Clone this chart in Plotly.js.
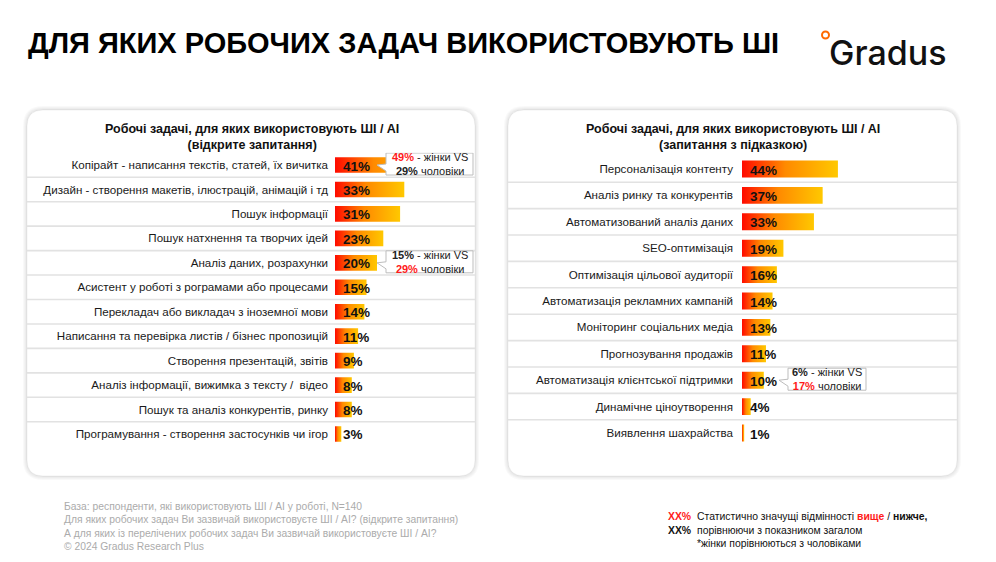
<!DOCTYPE html>
<html>
<head>
<meta charset="utf-8">
<script src="https://cdn.plot.ly/plotly-3.0.1.min.js"></script>
<style>html,body{margin:0;padding:0;background:#fff;}#chart{width:996px;height:562px;}</style>
</head>
<body>
<div id="chart"></div>
<script>
// ---------- DATA ----------
const leftCategories = [
  'Копірайт - написання текстів, статей, їх вичитка',
  'Дизайн - створення макетів, ілюстрацій, анімацій і тд',
  'Пошук інформації',
  'Пошук натхнення та творчих ідей',
  'Аналіз даних, розрахунки',
  'Асистент у роботі з рограмами або процесами',
  'Перекладач або викладач з іноземної мови',
  'Написання та перевірка листів / бізнес пропозицій',
  'Створення презентацій, звітів',
  'Аналіз інформації, вижимка з тексту /  відео',
  'Пошук та аналіз конкурентів, ринку',
  'Програмування - створення застосунків чи ігор'
];
const leftValues = [41, 33, 31, 23, 20, 15, 14, 11, 9, 8, 8, 3];

const rightCategories = [
  'Персоналізація контенту',
  'Аналіз ринку та конкурентів',
  'Автоматизований аналіз даних',
  'SEO-оптимізація',
  'Оптимізація цільової аудиторії',
  'Автоматизація рекламних кампаній',
  'Моніторинг соціальних медіа',
  'Прогнозування продажів',
  'Автоматизація клієнтської підтримки',
  'Динамічне ціноутворення',
  'Виявлення шахрайства'
];
const rightValues = [44, 37, 33, 19, 16, 14, 13, 11, 10, 4, 1];

// gender callouts
const leftCalloutRows = [0, 4];
const leftCalloutWomen = [49, 15];
const leftCalloutMen = [29, 29];
const leftCalloutHigher = ['women', 'men'];
const rightCalloutRows = [8];
const rightCalloutWomen = [6];
const rightCalloutMen = [17];
const rightCalloutHigher = ['men'];

const mainTitle = 'ДЛЯ ЯКИХ РОБОЧИХ ЗАДАЧ ВИКОРИСТОВУЮТЬ ШІ';
const leftPanelTitle = 'Робочі задачі, для яких використовують ШІ / AI<br>(відкрите запитання)';
const rightPanelTitle = 'Робочі задачі, для яких використовують ШІ / AI<br>(запитання з підказкою)';
const footnotes = [
  'База: респонденти, які використовують ШІ / AI у роботі, N=140',
  'Для яких робочих задач Ви зазвичай використовуєте ШІ / AI? (відкрите запитання)',
  'А для яких із перелічених робочих задач Ви зазвичай використовуєте ШІ / AI?',
  '© 2024 Gradus Research Plus'
];

// ---------- LAYOUT HELPERS ----------
const W = 996, H = 562;
const FONT = 'Liberation Sans, Arial, sans-serif';
const px = x => x / W;
const py = y => 1 - y / H;
const RED = '#ff1a1a';

// panel geometry (pixels)
const L = {barStart: 335, pxPer: 2.1, top: 152.8, bottom: 446.2, cardX0: 27, cardX1: 475, boxX0: 386, boxX1: 473, standoff: 6};
const R = {barStart: 742, pxPer: 2.18, top: 155.8, bottom: 446.2, cardX0: 508, cardX1: 957, boxX0: 788, boxX1: 866, standoff: 8};
const XMAX = 60;

function rr(x0, y0, x1, y1, r) {
  return `M${px(x0 + r)},${py(y0)} L${px(x1 - r)},${py(y0)} Q${px(x1)},${py(y0)} ${px(x1)},${py(y0 + r)} ` +
    `L${px(x1)},${py(y1 - r)} Q${px(x1)},${py(y1)} ${px(x1 - r)},${py(y1)} L${px(x0 + r)},${py(y1)} ` +
    `Q${px(x0)},${py(y1)} ${px(x0)},${py(y1 - r)} L${px(x0)},${py(y0 + r)} Q${px(x0)},${py(y0)} ${px(x0 + r)},${py(y0)} Z`;
}

const traces = [];
const shapes = [];
const annotations = [];
const HALF = 0.32;
const gradient = {type: 'horizontal', colorscale: [[0, '#ff0a00'], [0.45, '#ff8a00'], [1, '#ffc800']]};

function addPanel(cats, vals, G, xa, ya) {
  vals.forEach((v, i) => {
    traces.push({
      type: 'scatter', mode: 'lines', xaxis: xa, yaxis: ya,
      x: [0, v, v, 0, 0], y: [i - HALF, i - HALF, i + HALF, i + HALF, i - HALF],
      fill: 'toself', fillgradient: gradient, line: {width: 0}, hoverinfo: 'skip', showlegend: false
    });
    annotations.push({
      xref: xa, yref: ya, x: 0, y: i, xanchor: 'left', yanchor: 'middle', xshift: 6, yshift: -1,
      text: '<b>' + v + '%</b>', showarrow: false, font: {family: FONT, size: 13.5, color: '#111'}
    });
  });
  // row separators
  for (let i = 0; i < cats.length - 1; i++) {
    shapes.push({type: 'line', layer: 'below', xref: 'paper', yref: ya, x0: px(G.cardX0), x1: px(G.cardX1),
      y0: i + 0.5, y1: i + 0.5, line: {color: '#e2e2e2', width: 1.6}});
  }
}

function addCallouts(rows, women, men, higher, G, ya, n) {
  const rowPx = (G.bottom - G.top) / n;
  const d = p => p / rowPx;
  rows.forEach((r, k) => {
    const t = r + d(-12), b = r + d(10);
    const x0 = px(G.boxX0), x1 = px(G.boxX1);
    const path = `M${x0},${t} L${x1},${t} L${x1},${b} L${x0},${b} L${x0},${r + d(6)} L${px(G.boxX0 - 9)},${r + d(0)} L${x0},${r + d(-1)} Z`;
    shapes.push({type: 'path', layer: 'above', xref: 'paper', yref: ya, path: path,
      fillcolor: '#ffffff', line: {color: '#bdbdbd', width: 1}});
    const wTxt = higher[k] === 'women' ? `<span style="color:${RED}"><b>${women[k]}%</b></span>` : `<b>${women[k]}%</b>`;
    const mTxt = higher[k] === 'men' ? `<span style="color:${RED}"><b>${men[k]}%</b></span>` : `<b>${men[k]}%</b>`;
    annotations.push({
      xref: 'paper', yref: ya, x: px((G.boxX0 + G.boxX1) / 2), y: r + d(-1), xanchor: 'center', yanchor: 'middle',
      text: wTxt + ' - жінки VS<br>' + mTxt + ' чоловіки', showarrow: false, align: 'center',
      font: {family: FONT, size: 11, color: '#222'}
    });
  });
}

// cards (shadow + white)
[[L.cardX0, L.cardX1], [R.cardX0, R.cardX1]].forEach(([a, b]) => {
  [4, 3, 2, 1].forEach(e => shapes.push({type: 'path', layer: 'below', xref: 'paper', yref: 'paper',
    path: rr(a - e, 110 - e, b + e, 476 + e, 16 + e), fillcolor: 'rgba(0,0,0,0.022)', line: {width: 0}}));
  shapes.push({type: 'path', layer: 'below', xref: 'paper', yref: 'paper',
    path: rr(a, 110, b, 476, 16), fillcolor: '#ffffff', line: {color: 'rgba(0,0,0,0.05)', width: 1}});
});

addPanel(leftCategories, leftValues, L, 'x', 'y');
addPanel(rightCategories, rightValues, R, 'x2', 'y2');
addCallouts(leftCalloutRows, leftCalloutWomen, leftCalloutMen, leftCalloutHigher, L, 'y', leftCategories.length);
addCallouts(rightCalloutRows, rightCalloutWomen, rightCalloutMen, rightCalloutHigher, R, 'y2', rightCategories.length);

// titles
annotations.push({xref: 'paper', yref: 'paper', x: px(26), y: py(43), xanchor: 'left', yanchor: 'middle',
  text: '<b>' + mainTitle + '</b>', showarrow: false, font: {family: FONT, size: 29, color: '#000'}});
annotations.push({xref: 'paper', yref: 'paper', x: px(252), y: py(137), xanchor: 'center', yanchor: 'middle',
  text: '<b>' + leftPanelTitle + '</b>', showarrow: false, align: 'center', font: {family: FONT, size: 12.5, color: '#111'}});
annotations.push({xref: 'paper', yref: 'paper', x: px(733), y: py(137), xanchor: 'center', yanchor: 'middle',
  text: '<b>' + rightPanelTitle + '</b>', showarrow: false, align: 'center', font: {family: FONT, size: 12.5, color: '#111'}});
// logo
annotations.push({xref: 'paper', yref: 'paper', x: px(827), y: py(52), xanchor: 'left', yanchor: 'middle',
  text: 'Gradus', showarrow: false, font: {family: 'Inter, Lato, sans-serif', size: 34, weight: 500, color: '#111'}});
shapes.push({type: 'circle', layer: 'above', xref: 'paper', yref: 'paper', x0: px(822), x1: px(829), y0: py(31.5), y1: py(38.5),
  fillcolor: '#ffffff', line: {color: '#ff6a00', width: 2}});
// footnotes
annotations.push({xref: 'paper', yref: 'paper', x: px(62), y: py(499), xanchor: 'left', yanchor: 'top',
  text: footnotes.join('<br>'), showarrow: false, align: 'left', font: {family: FONT, size: 10.3, color: '#ababab'}});
// significance legend
annotations.push({xref: 'paper', yref: 'paper', x: px(666), y: py(509), xanchor: 'left', yanchor: 'top',
  text: `<span style="color:${RED}"><b>XX%</b></span><br><b>XX%</b>`, showarrow: false, align: 'left',
  font: {family: FONT, size: 10.4, color: '#111'}});
annotations.push({xref: 'paper', yref: 'paper', x: px(695), y: py(509), xanchor: 'left', yanchor: 'top',
  text: `Статистично значущі відмінності <span style="color:${RED}"><b>вище</b></span> / <b>нижче,</b><br>порівнюючи з показником загалом<br>*жінки порівнюються з чоловіками`,
  showarrow: false, align: 'left', font: {family: FONT, size: 10.4, color: '#111'}});

function yAxis(cats, G, anchor) {
  return {
    anchor: anchor, domain: [py(G.bottom), py(G.top)], range: [cats.length - 0.5, -0.5],
    tickmode: 'array', tickvals: cats.map((c, i) => i), ticktext: cats, ticks: '',
    showgrid: false, zeroline: false, showline: false, ticklabelstandoff: G.standoff,
    tickfont: {family: FONT, size: 11.6, color: '#1a1a1a'}, fixedrange: true
  };
}
function xAxis(G, anchor) {
  return {anchor: anchor, domain: [px(G.barStart), px(G.barStart + G.pxPer * XMAX)], range: [0, XMAX],
    visible: false, fixedrange: true};
}

const layout = {
  width: W, height: H, margin: {l: 0, r: 0, t: 0, b: 0},
  paper_bgcolor: '#ffffff', plot_bgcolor: 'rgba(0,0,0,0)', showlegend: false,
  xaxis: xAxis(L, 'y'), yaxis: yAxis(leftCategories, L, 'x'),
  xaxis2: xAxis(R, 'y2'), yaxis2: yAxis(rightCategories, R, 'x2'),
  shapes: shapes, annotations: annotations, font: {family: FONT}
};

Plotly.newPlot('chart', traces, layout, {displayModeBar: false, staticPlot: true});
</script>
</body>
</html>
